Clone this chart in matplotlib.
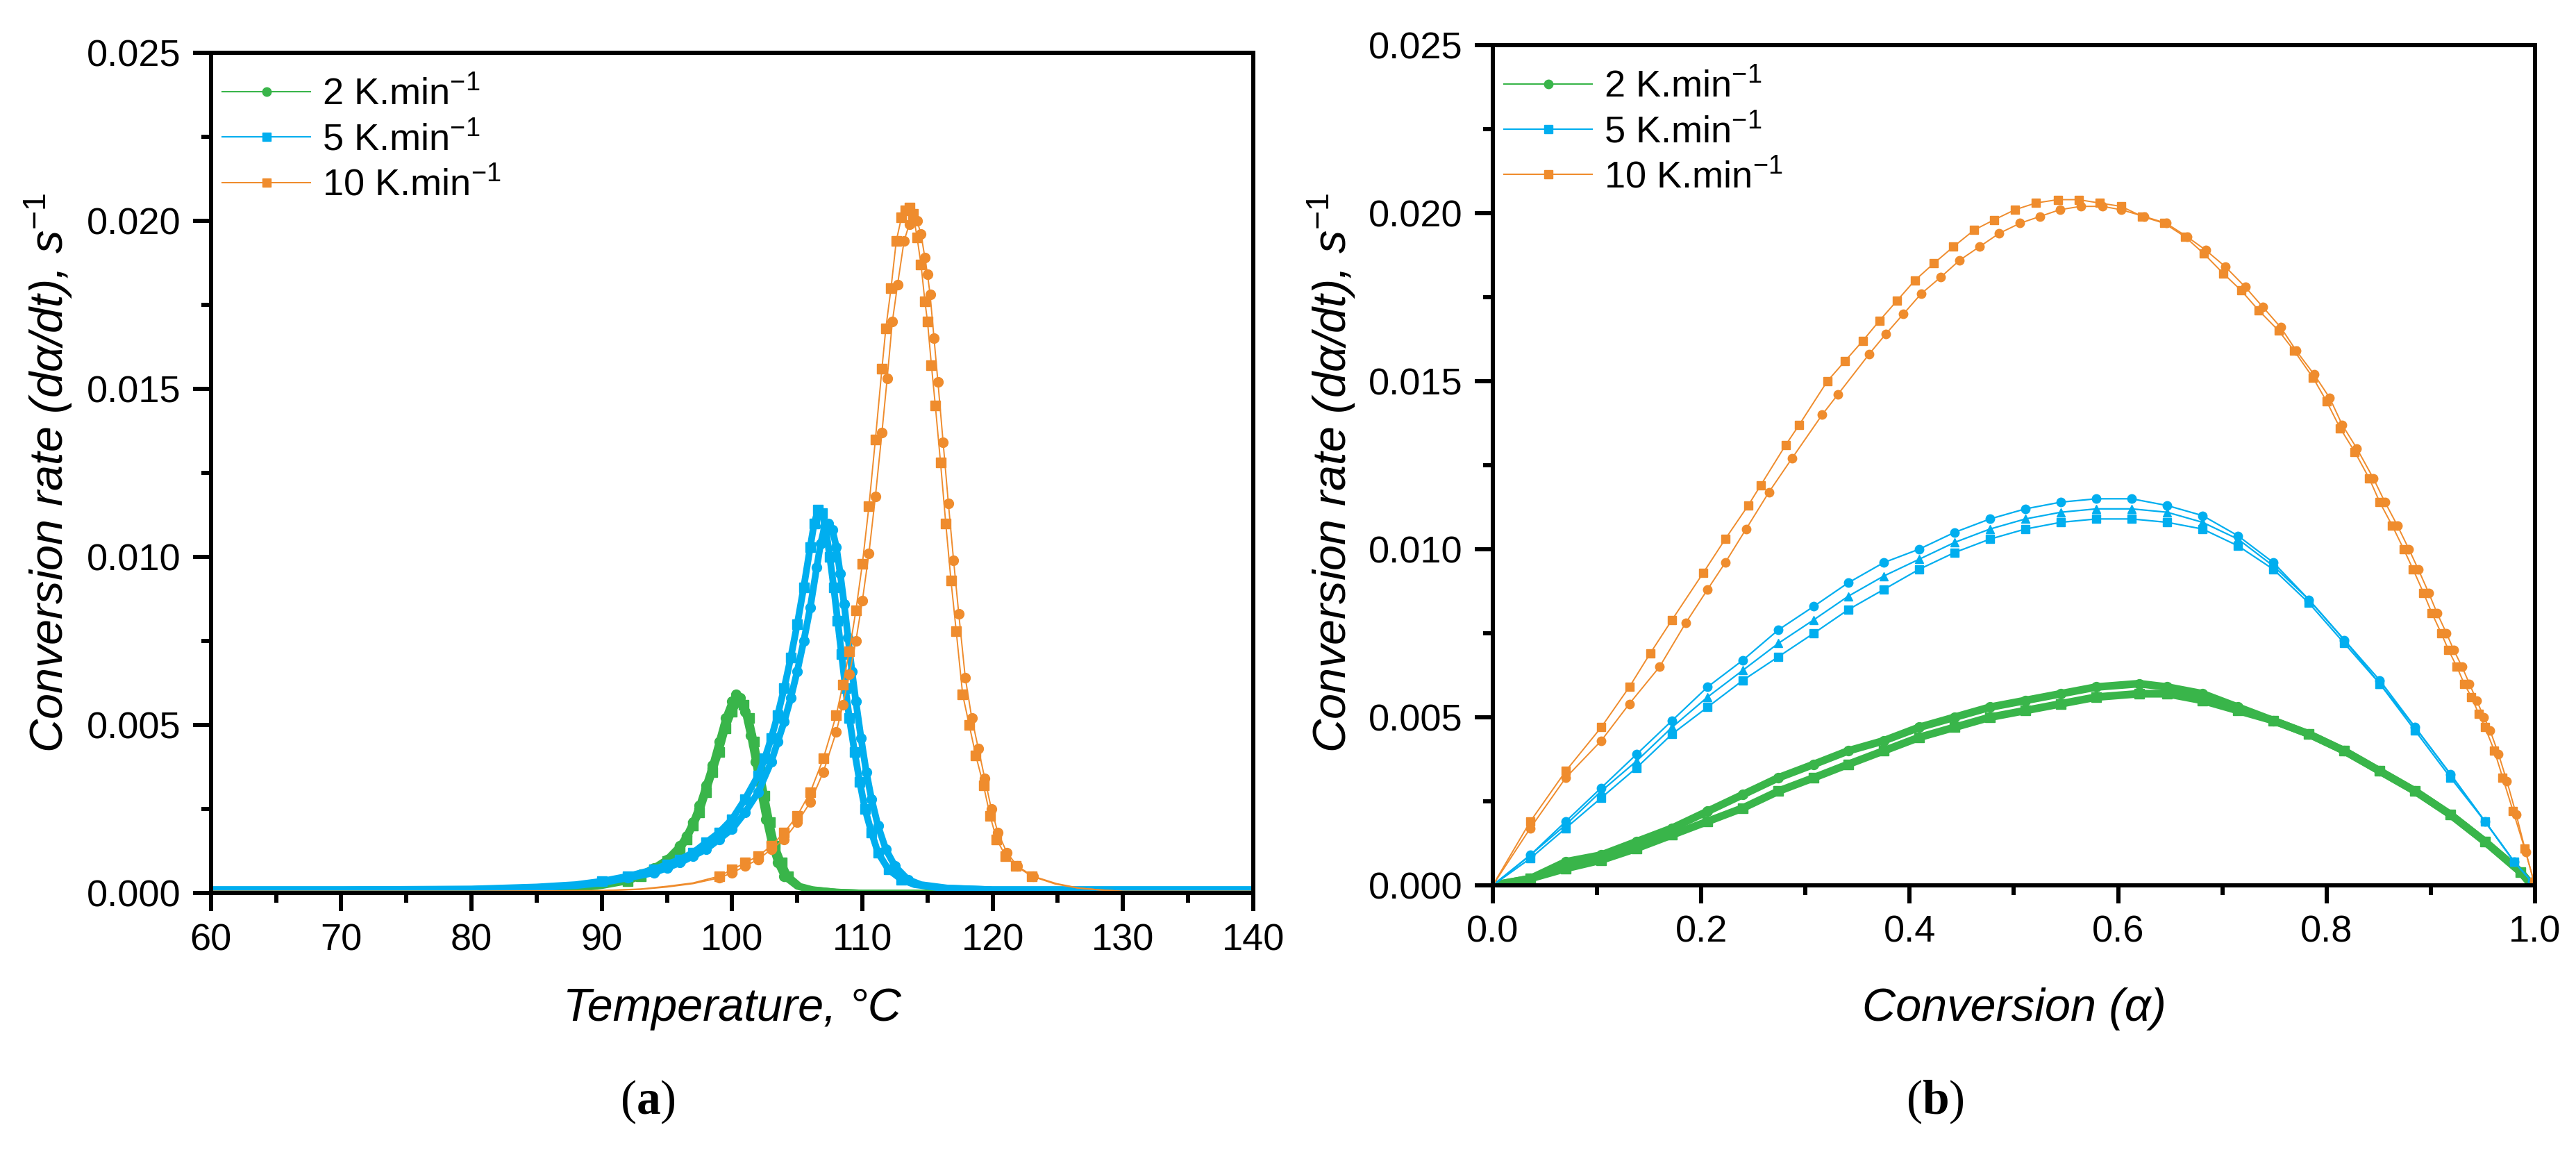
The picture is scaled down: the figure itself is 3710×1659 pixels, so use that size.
"""Conversion rate curves of the resin cure at three heating rates:
(a) rate vs temperature, (b) rate vs conversion. Two or three replicate
runs per heating rate, values read off the published figure."""
import matplotlib

matplotlib.use("Agg")
import matplotlib.pyplot as plt
from matplotlib.lines import Line2D
from matplotlib.ticker import MultipleLocator, FormatStrFormatter

plt.rcParams["font.family"] = ["Liberation Sans", "DejaVu Sans"]
plt.rcParams["mathtext.fontset"] = "custom"
plt.rcParams["mathtext.rm"] = "Liberation Sans"
plt.rcParams["mathtext.it"] = "Liberation Sans:italic"
plt.rcParams["mathtext.bf"] = "Liberation Serif:bold"

GREEN = "#39b54a"
BLUE = "#00aeef"
ORANGE = "#ef8c2d"

rate_labels = ["2 K.min$^{-1}$", "5 K.min$^{-1}$", "10 K.min$^{-1}$"]

# ---- panel (a): temperature (degC) vs conversion rate (1/s) ----
t_2k_a = [60, 70, 80, 85, 88, 90, 92, 93, 94, 95, 96, 96.5, 97, 97.5, 98, 98.5,
          99, 99.5, 100, 100.3, 100.6, 101, 101.4, 101.8, 102.2, 102.6, 103,
          103.5, 104, 105, 106, 108, 110, 120, 130, 140]
r_2k_a = [0, 0, 0.00003, 0.00008, 0.00015, 0.00025, 0.0004, 0.00055, 0.00075,
          0.001, 0.0014, 0.0017, 0.0021, 0.0026, 0.0032, 0.0038, 0.0045, 0.0052,
          0.0057, 0.0059, 0.0058, 0.0054, 0.0047, 0.0039, 0.0030, 0.0022,
          0.0015, 0.0009, 0.0005, 0.0002, 0.0001, 0.00003, 0, 0, 0, 0]
t_2k_b = [60, 70, 80, 85, 88, 90, 92, 93, 94, 95, 96, 96.5, 97, 97.5, 98, 98.5,
          99, 99.5, 100, 100.5, 100.9, 101.3, 101.7, 102.1, 102.5, 102.9, 103.3,
          103.8, 104.3, 105.2, 106.2, 108, 110, 120, 130, 140]
r_2k_b = [0, 0, 0.00002, 0.00007, 0.00013, 0.00022, 0.00036, 0.0005, 0.0007,
          0.00095, 0.0013, 0.0016, 0.0020, 0.0024, 0.0030, 0.0036, 0.0042,
          0.0049, 0.0054, 0.0057, 0.0056, 0.0052, 0.0045, 0.0037, 0.0029,
          0.0021, 0.0014, 0.0009, 0.0005, 0.0002, 0.0001, 0.00003, 0, 0, 0, 0]

t_5k_a = [60, 70, 80, 85, 88, 90, 92, 94, 95, 96, 97, 98, 99, 100, 101, 102,
          102.5, 103, 103.5, 104, 104.5, 105, 105.5, 106, 106.3, 106.6, 106.9,
          107.2, 107.5, 107.8, 108.1, 108.4, 108.7, 109, 109.4, 109.8, 110.2,
          110.7, 111.2, 112, 113, 114, 116, 120, 130, 140]
r_5k_a = [0.0001, 0.0001, 0.00012, 0.00018, 0.00025, 0.00035, 0.0005, 0.0007,
          0.00085, 0.001, 0.0012, 0.0015, 0.0018, 0.0022, 0.0028, 0.0035, 0.0040,
          0.0046, 0.0053, 0.0061, 0.0070, 0.0080, 0.0091, 0.0103, 0.0110, 0.0114,
          0.0113, 0.0108, 0.0100, 0.0091, 0.0081, 0.0071, 0.0061, 0.0052, 0.0042,
          0.0033, 0.0025, 0.0018, 0.0012, 0.0007, 0.0004, 0.00025, 0.00015,
          0.0001, 0.0001, 0.0001]
t_5k_b = [60, 70, 80, 85, 88, 90, 92, 94, 95, 96, 97, 98, 99, 100, 101, 102,
          103, 103.5, 104, 104.5, 105, 105.5, 106, 106.5, 106.8, 107.1, 107.4,
          107.7, 108, 108.3, 108.6, 108.9, 109.2, 109.5, 109.9, 110.3, 110.7,
          111.2, 111.8, 112.5, 113.5, 114.5, 116.5, 120, 130, 140]
r_5k_b = [0.0001, 0.0001, 0.00011, 0.00016, 0.00022, 0.0003, 0.00045, 0.0006,
          0.00075, 0.0009, 0.0011, 0.0013, 0.0016, 0.0019, 0.0024, 0.0030, 0.0039,
          0.0045, 0.0051, 0.0058, 0.0066, 0.0075, 0.0085, 0.0097, 0.0104, 0.0109,
          0.0110, 0.0108, 0.0103, 0.0095, 0.0086, 0.0076, 0.0066, 0.0057, 0.0046,
          0.0036, 0.0028, 0.0020, 0.0013, 0.0008, 0.0004, 0.00025, 0.00015,
          0.0001, 0.0001, 0.0001]

t_10k_a = [60, 70, 80, 85, 90, 93, 95, 97, 99, 100, 101, 102, 103, 104, 105,
           106, 107, 108, 108.5, 109, 109.5, 110, 110.5, 111, 111.5, 111.8,
           112.2, 112.6, 113.0, 113.3, 113.6, 113.9, 114.2, 114.5, 114.8, 115.0,
           115.3, 115.6, 116.0, 116.4, 116.8, 117.2, 117.7, 118.2, 118.7, 119.3,
           119.8, 120.3, 121, 121.8, 123, 124.8, 126.5, 128, 130, 135, 140]
r_10k_a = [0.00005, 0.00005, 0.00005, 0.00006, 0.00007, 0.00012, 0.0002, 0.0003,
           0.0005, 0.0007, 0.0009, 0.0011, 0.0014, 0.0018, 0.0023, 0.0030, 0.0040,
           0.0053, 0.0062, 0.0072, 0.0084, 0.0098, 0.0115, 0.0135, 0.0156, 0.0168,
           0.0180, 0.0194, 0.0201, 0.0203, 0.0204, 0.0202, 0.0195, 0.0187, 0.0176,
           0.0170, 0.0157, 0.0145, 0.0128, 0.0110, 0.0093, 0.0078, 0.0059, 0.0050,
           0.0041, 0.0032, 0.0023, 0.0016, 0.0011, 0.0008, 0.0005, 0.00027,
           0.00015, 0.0001, 0.00005, 0.00005, 0.00005]
t_10k_b = [60, 70, 80, 85, 90, 93, 95, 97, 99, 100, 101, 102, 103, 104, 105,
           106, 107, 108, 108.5, 109, 109.5, 110, 110.5, 111, 111.5, 111.9,
           112.3, 112.7, 113.2, 113.6, 113.9, 114.2, 114.5, 114.8, 115.0, 115.2,
           115.5, 115.8, 116.2, 116.6, 117.0, 117.4, 117.9, 118.4, 118.9, 119.4,
           119.9, 120.4, 121.1, 121.9, 123.1, 124.9, 126.6, 128, 130, 135, 140]
r_10k_b = [0.00005, 0.00005, 0.00005, 0.00006, 0.00007, 0.00011, 0.00018,
           0.00028, 0.00045, 0.0006, 0.0008, 0.001, 0.0013, 0.0016, 0.0021,
           0.0027, 0.0036, 0.0048, 0.0056, 0.0065, 0.0075, 0.0087, 0.0101, 0.0118,
           0.0137, 0.0153, 0.0170, 0.0181, 0.0194, 0.0199, 0.0201, 0.0200, 0.0196,
           0.0189, 0.0184, 0.0178, 0.0165, 0.0152, 0.0134, 0.0116, 0.0099, 0.0083,
           0.0064, 0.0052, 0.0043, 0.0034, 0.0025, 0.0018, 0.0012, 0.0008, 0.0005,
           0.00028, 0.00015, 0.0001, 0.00005, 0.00005, 0.00005]

# ---- panel (b): conversion alpha vs conversion rate (1/s) ----
al_2k_a = [0, 0.036, 0.070, 0.104, 0.138, 0.172, 0.206, 0.240, 0.274, 0.308,
           0.341, 0.375, 0.409, 0.443, 0.477, 0.511, 0.545, 0.579, 0.620, 0.647,
           0.681, 0.715, 0.749, 0.783, 0.817, 0.851, 0.885, 0.919, 0.952, 0.986,
           0.997]
rb_2k_a = [0, 0.0002, 0.0007, 0.0009, 0.0013, 0.0017, 0.0022, 0.0027, 0.0032,
           0.0036, 0.0040, 0.0043, 0.0047, 0.0050, 0.0053, 0.0055, 0.0057, 0.0059,
           0.0060, 0.0059, 0.0057, 0.0053, 0.0049, 0.0045, 0.0040, 0.0034, 0.0028,
           0.0021, 0.0013, 0.0004, 0]
al_2k_b = [0, 0.036, 0.070, 0.104, 0.138, 0.172, 0.206, 0.240, 0.274, 0.308,
           0.341, 0.375, 0.409, 0.443, 0.477, 0.511, 0.545, 0.579, 0.620, 0.647,
           0.681, 0.715, 0.749, 0.783, 0.817, 0.851, 0.885, 0.919, 0.952, 0.986,
           0.997]
rb_2k_b = [0, 0.0002, 0.0005, 0.00075, 0.0011, 0.0015, 0.0019, 0.0023, 0.0028,
           0.0032, 0.0036, 0.0040, 0.0044, 0.0047, 0.0050, 0.0052, 0.0054, 0.0056,
           0.0057, 0.0057, 0.0055, 0.0052, 0.0049, 0.0045, 0.0040, 0.0034, 0.0028,
           0.0021, 0.0013, 0.0004, 0]

al_5k = [0, 0.036, 0.070, 0.104, 0.138, 0.172, 0.206, 0.240, 0.274, 0.308,
         0.341, 0.375, 0.409, 0.443, 0.477, 0.511, 0.545, 0.579, 0.613, 0.647,
         0.681, 0.715, 0.749, 0.783, 0.817, 0.851, 0.885, 0.919, 0.952, 0.980,
         0.997]
rb_5k_sq = [0, 0.0008, 0.0017, 0.0026, 0.0035, 0.0045, 0.0053, 0.0061, 0.0068,
            0.0075, 0.0082, 0.0088, 0.0094, 0.0099, 0.0103, 0.0106, 0.0108,
            0.0109, 0.0109, 0.0108, 0.0106, 0.0101, 0.0094, 0.0084, 0.0072,
            0.0060, 0.0046, 0.0032, 0.0019, 0.0007, 0.0001]
rb_5k_ci = [0, 0.0009, 0.0019, 0.0029, 0.0039, 0.0049, 0.0059, 0.0067, 0.0076,
            0.0083, 0.0090, 0.0096, 0.0100, 0.0105, 0.0109, 0.0112, 0.0114,
            0.0115, 0.0115, 0.0113, 0.0110, 0.0104, 0.0096, 0.0085, 0.0073,
            0.0061, 0.0047, 0.0033, 0.0019, 0.0007, 0.0001]
rb_5k_tr = [0, 0.0009, 0.0018, 0.0028, 0.0037, 0.0047, 0.0056, 0.0064, 0.0072,
            0.0079, 0.0086, 0.0092, 0.0097, 0.0102, 0.0106, 0.0109, 0.0111,
            0.0112, 0.0112, 0.0111, 0.0108, 0.0103, 0.0095, 0.0085, 0.0073,
            0.0060, 0.0047, 0.0033, 0.0019, 0.0007, 0.0001]

al_10k_sq = [0, 0.036, 0.07, 0.104, 0.131, 0.151, 0.172, 0.202, 0.223, 0.245,
             0.257, 0.281, 0.294, 0.321, 0.338, 0.355, 0.371, 0.388, 0.405,
             0.423, 0.442, 0.462, 0.481, 0.501, 0.521, 0.542, 0.562, 0.582,
             0.603, 0.623, 0.644, 0.664, 0.682, 0.701, 0.718, 0.735, 0.754,
             0.769, 0.787, 0.800, 0.813, 0.827, 0.841, 0.851, 0.863, 0.874,
             0.883, 0.893, 0.901, 0.910, 0.917, 0.925, 0.932, 0.939, 0.946,
             0.952, 0.961, 0.969, 0.979, 0.990, 0.999]
rb_10k_sq = [0, 0.0019, 0.0034, 0.0047, 0.0059, 0.0069, 0.0079, 0.0093, 0.0103,
             0.0113, 0.0119, 0.0131, 0.0137, 0.0150, 0.0156, 0.0162, 0.0168,
             0.0174, 0.0180, 0.0185, 0.0190, 0.0195, 0.0198, 0.0201, 0.0203,
             0.0204, 0.0204, 0.0203, 0.0202, 0.0199, 0.0197, 0.0193, 0.0188,
             0.0182, 0.0177, 0.0171, 0.0165, 0.0159, 0.0151, 0.0144, 0.0136,
             0.0129, 0.0121, 0.0114, 0.0107, 0.0100, 0.0094, 0.0087, 0.0081,
             0.0075, 0.0070, 0.0065, 0.0060, 0.0056, 0.0051, 0.0047, 0.0040,
             0.0032, 0.0022, 0.0011, 0.0001]
al_10k_ci = [0, 0.036, 0.07, 0.104, 0.131, 0.160, 0.185, 0.206, 0.223, 0.243,
             0.265, 0.287, 0.316, 0.331, 0.361, 0.377, 0.394, 0.411, 0.430,
             0.448, 0.467, 0.486, 0.506, 0.525, 0.544, 0.564, 0.585, 0.603,
             0.625, 0.646, 0.666, 0.684, 0.703, 0.722, 0.739, 0.756, 0.771,
             0.788, 0.803, 0.815, 0.829, 0.845, 0.856, 0.868, 0.879, 0.888,
             0.898, 0.906, 0.915, 0.922, 0.930, 0.937, 0.944, 0.951, 0.957,
             0.965, 0.973, 0.982, 0.991, 0.999]
rb_10k_ci = [0, 0.0017, 0.0032, 0.0043, 0.0054, 0.0065, 0.0078, 0.0088, 0.0096,
             0.0106, 0.0117, 0.0127, 0.0140, 0.0146, 0.0158, 0.0164, 0.0170,
             0.0176, 0.0181, 0.0186, 0.0190, 0.0194, 0.0197, 0.0199, 0.0201,
             0.0202, 0.0202, 0.0201, 0.0199, 0.0197, 0.0193, 0.0189, 0.0184,
             0.0178, 0.0172, 0.0166, 0.0159, 0.0152, 0.0145, 0.0137, 0.0130,
             0.0121, 0.0114, 0.0107, 0.0100, 0.0094, 0.0087, 0.0081, 0.0075,
             0.0070, 0.0065, 0.0060, 0.0055, 0.0050, 0.0046, 0.0039, 0.0031,
             0.0021, 0.0010, 0.0001]

TICK_FS = 39
LABEL_FS = 48
SPINE_W = 4.3


def style_axes(ax):
    for s in ax.spines.values():
        s.set_linewidth(SPINE_W)
    ax.tick_params(which="both", direction="out", width=SPINE_W,
                   labelsize=TICK_FS, top=False, right=False)
    ax.tick_params(which="major", length=19, pad=12)
    ax.tick_params(which="minor", length=10)
    ax.set_ylim(0, 0.025)
    ax.yaxis.set_major_locator(MultipleLocator(0.005))
    ax.yaxis.set_minor_locator(MultipleLocator(0.0025))
    ax.yaxis.set_major_formatter(FormatStrFormatter("%.3f"))


def curve(ax, x, y, color, marker, lw, ms, thr=0.0):
    # markers only where the curve leaves the baseline
    mask = [v > thr for v in y]
    ax.plot(x, y, color=color, lw=lw, marker=marker, ms=ms, mec=color,
            mfc=color, markevery=mask, solid_joinstyle="round")


fig = plt.figure(figsize=(37.1, 16.59), dpi=100)
ax1 = fig.add_axes([0.0819, 0.2248, 0.4046, 0.7294])
ax2 = fig.add_axes([0.5795, 0.2315, 0.4046, 0.7294])

# (a)
curve(ax1, t_2k_a, r_2k_a, GREEN, "o", 7, 10, 0.0003)
curve(ax1, t_2k_b, r_2k_b, GREEN, "s", 7, 10, 0.0003)
curve(ax1, t_5k_a, r_5k_a, BLUE, "s", 7, 10, 0.0003)
curve(ax1, t_5k_b, r_5k_b, BLUE, "o", 7, 10, 0.0003)
curve(ax1, t_10k_a, r_10k_a, ORANGE, "s", 1.4, 10, 0.0003)
curve(ax1, t_10k_b, r_10k_b, ORANGE, "o", 1.4, 10, 0.0003)
ax1.set_xlim(60, 140)
ax1.xaxis.set_major_locator(MultipleLocator(10))
ax1.xaxis.set_minor_locator(MultipleLocator(5))
style_axes(ax1)

# (b)
curve(ax2, al_2k_a, rb_2k_a, GREEN, "o", 8, 10)
curve(ax2, al_2k_b, rb_2k_b, GREEN, "s", 8, 10)
curve(ax2, al_5k, rb_5k_sq, BLUE, "s", 1.6, 9)
curve(ax2, al_5k, rb_5k_tr, BLUE, "^", 1.6, 9)
curve(ax2, al_5k, rb_5k_ci, BLUE, "o", 1.6, 9)
curve(ax2, al_10k_sq, rb_10k_sq, ORANGE, "s", 1.4, 9)
curve(ax2, al_10k_ci, rb_10k_ci, ORANGE, "o", 1.4, 9)
ax2.set_xlim(0, 1.0)
ax2.xaxis.set_major_locator(MultipleLocator(0.2))
ax2.xaxis.set_minor_locator(MultipleLocator(0.1))
ax2.xaxis.set_major_formatter(FormatStrFormatter("%.1f"))
style_axes(ax2)

handles = [Line2D([], [], color=GREEN, lw=1.5, marker="o", ms=9),
           Line2D([], [], color=BLUE, lw=1.5, marker="s", ms=9),
           Line2D([], [], color=ORANGE, lw=1.5, marker="s", ms=9)]
for ax in (ax1, ax2):
    ax.legend(handles, rate_labels, loc="upper left", frameon=False,
              fontsize=TICK_FS, handlelength=2.35, handletextpad=0.3,
              labelspacing=0.25, borderaxespad=0.3, borderpad=0.0,
              bbox_to_anchor=(0.0, 0.985))

ylab = "Conversion rate (d\u03b1/dt), s$^{\\mathit{-1}}$"
for x0 in (0.0189, 0.517):
    fig.text(x0, 0.2248 + 0.7294 / 2, ylab, rotation=90, ha="center",
             va="center", fontsize=LABEL_FS, style="italic")
fig.text(0.0819 + 0.4046 / 2, 0.1242, "Temperature, \u00b0C", ha="center",
         va="center", fontsize=LABEL_FS, style="italic")
fig.text(0.5795 + 0.4046 / 2, 0.1242, "Conversion (\u03b1)", ha="center",
         va="center", fontsize=LABEL_FS, style="italic")
fig.text(0.2515, 0.0434, r"($\mathbf{a}$)", ha="center", va="center",
         fontsize=50, family="Liberation Serif")
fig.text(0.7512, 0.0434, r"($\mathbf{b}$)", ha="center", va="center",
         fontsize=50, family="Liberation Serif")

fig.savefig("out.png", dpi=100)
